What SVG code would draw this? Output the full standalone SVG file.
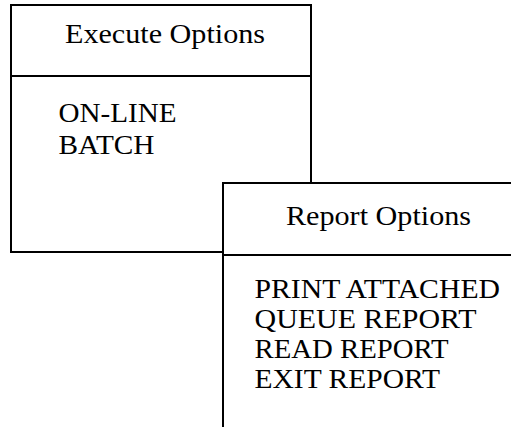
<svg xmlns="http://www.w3.org/2000/svg" width="511" height="427" viewBox="0 0 511 427">
  <style>
    .box { fill: #ffffff; stroke: #000000; stroke-width: 2; }
    .rule { stroke: #000000; stroke-width: 2; fill: none; }
    text { font-family: 'Liberation Serif', 'DejaVu Serif', serif; font-size: 27px; fill: #000000; }
  </style>
  <rect width="511" height="427" fill="#ffffff"/>

  <!-- Execute Options panel -->
  <g id="execute-options" font-family="Liberation Serif, DejaVu Serif, serif">
    <rect class="box" x="11" y="5" width="300" height="247"/>
    <line class="rule" x1="11" y1="76" x2="311" y2="76"/>
    <text x="65" y="42.5" textLength="200" lengthAdjust="spacingAndGlyphs">Execute Options</text>
    <text x="58.5" y="121.5" textLength="118" lengthAdjust="spacingAndGlyphs">ON-LINE</text>
    <text x="58.5" y="153.5" textLength="96" lengthAdjust="spacingAndGlyphs">BATCH</text>
  </g>

  <!-- Report Options panel, drawn over the lower-right corner of the first -->
  <g id="report-options" font-family="Liberation Serif, DejaVu Serif, serif">
    <rect class="box" x="223" y="183" width="300" height="260"/>
    <line class="rule" x1="223" y1="255" x2="511" y2="255"/>
    <text x="286" y="224.5" textLength="185" lengthAdjust="spacingAndGlyphs">Report Options</text>
    <text x="254.5" y="297.5" textLength="245.5" lengthAdjust="spacingAndGlyphs">PRINT ATTACHED</text>
    <text x="254.5" y="327.5" textLength="222" lengthAdjust="spacingAndGlyphs">QUEUE REPORT</text>
    <text x="254.5" y="358" textLength="194" lengthAdjust="spacingAndGlyphs">READ REPORT</text>
    <text x="254.5" y="387.5" textLength="185.5" lengthAdjust="spacingAndGlyphs">EXIT REPORT</text>
  </g>

  <!-- no connectors in this diagram -->
  <g id="connectors"/>
</svg>
